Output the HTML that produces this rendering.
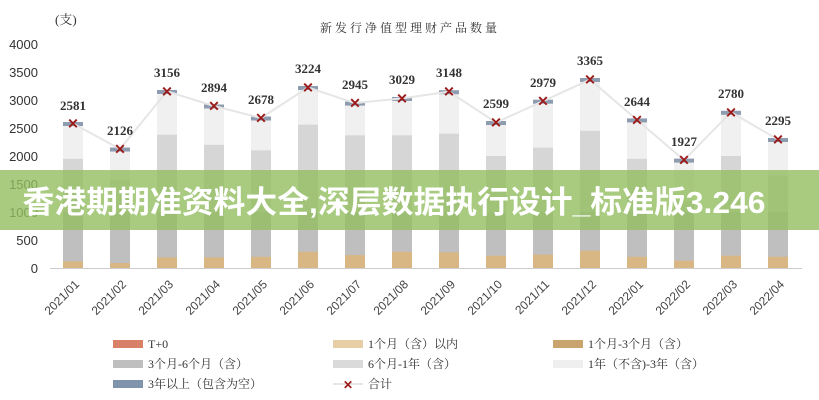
<!DOCTYPE html>
<html><head><meta charset="utf-8"><style>
body{margin:0;background:#fff;width:819px;height:400px;overflow:hidden}
svg{display:block}
.y{font:13px "Liberation Sans",sans-serif;fill:#333;text-anchor:end}
.v{font:bold 13px "Liberation Serif",serif;fill:#333;text-anchor:middle}
.x{font:12px "Liberation Sans",sans-serif;fill:#444;text-anchor:end}
.l{font:12px "Liberation Serif","Noto Serif CJK SC",serif;fill:#333}
</style></head><body>
<svg width="819" height="400" viewBox="0 0 819 400">
<text x="55" y="24" class="l" style="font-size:13px">(支)</text>
<text x="410" y="32" class="l" text-anchor="middle" style="font-size:12px;letter-spacing:3px">新发行净值型理财产品数量</text>
<g class="y">
<text x="38" y="273">0</text><text x="38" y="245">500</text><text x="38" y="217">1000</text><text x="38" y="189">1500</text>
<text x="38" y="161">2000</text><text x="38" y="133">2500</text><text x="38" y="105">3000</text><text x="38" y="77">3500</text><text x="38" y="49">4000</text>
</g>
<line x1="50" y1="268.5" x2="802" y2="268.5" stroke="#ccc"/>
<g id="bars">
<g transform="translate(63,0)"><rect y="123.5" width="20" height="144.5" fill="#f0f0f0"/><rect y="158.8" width="20" height="109.2" fill="#d6d6d6"/><rect y="212" width="20" height="56" fill="#bfbfbf"/><rect y="261.3" width="20" height="6.7" fill="#d9b784"/><rect y="122" width="20" height="4" fill="#8e9cb0"/></g>
<g transform="translate(110,0)"><rect y="149" width="20" height="119" fill="#f0f0f0"/><rect y="179.5" width="20" height="88.5" fill="#d6d6d6"/><rect y="212" width="20" height="56" fill="#bfbfbf"/><rect y="263" width="20" height="5" fill="#d9b784"/><rect y="147.5" width="20" height="4" fill="#8e9cb0"/></g>
<g transform="translate(157,0)"><rect y="91.3" width="20" height="176.7" fill="#f0f0f0"/><rect y="134.7" width="20" height="133.3" fill="#d6d6d6"/><rect y="212" width="20" height="56" fill="#bfbfbf"/><rect y="257.4" width="20" height="10.6" fill="#d9b784"/><rect y="90" width="20" height="4" fill="#8e9cb0"/></g>
<g transform="translate(204,0)"><rect y="106" width="20" height="162" fill="#f0f0f0"/><rect y="144.8" width="20" height="123.2" fill="#d6d6d6"/><rect y="212" width="20" height="56" fill="#bfbfbf"/><rect y="257.4" width="20" height="10.6" fill="#d9b784"/><rect y="104.5" width="20" height="4" fill="#8e9cb0"/></g>
<g transform="translate(251,0)"><rect y="118" width="20" height="150" fill="#f0f0f0"/><rect y="150.4" width="20" height="117.6" fill="#d6d6d6"/><rect y="212" width="20" height="56" fill="#bfbfbf"/><rect y="256.8" width="20" height="11.2" fill="#d9b784"/><rect y="116.5" width="20" height="4" fill="#8e9cb0"/></g>
<g transform="translate(298,0)"><rect y="87.5" width="20" height="180.5" fill="#f0f0f0"/><rect y="124.6" width="20" height="143.4" fill="#d6d6d6"/><rect y="212" width="20" height="56" fill="#bfbfbf"/><rect y="251.8" width="20" height="16.2" fill="#d9b784"/><rect y="86" width="20" height="4" fill="#8e9cb0"/></g>
<g transform="translate(345,0)"><rect y="103.1" width="20" height="164.9" fill="#f0f0f0"/><rect y="135.3" width="20" height="132.7" fill="#d6d6d6"/><rect y="212" width="20" height="56" fill="#bfbfbf"/><rect y="255.1" width="20" height="12.9" fill="#d9b784"/><rect y="101.6" width="20" height="4" fill="#8e9cb0"/></g>
<g transform="translate(392,0)"><rect y="98.4" width="20" height="169.6" fill="#f0f0f0"/><rect y="135.3" width="20" height="132.7" fill="#d6d6d6"/><rect y="212" width="20" height="56" fill="#bfbfbf"/><rect y="251.8" width="20" height="16.2" fill="#d9b784"/><rect y="97" width="20" height="4" fill="#8e9cb0"/></g>
<g transform="translate(439,0)"><rect y="91.7" width="20" height="176.3" fill="#f0f0f0"/><rect y="133.6" width="20" height="134.4" fill="#d6d6d6"/><rect y="212" width="20" height="56" fill="#bfbfbf"/><rect y="252.3" width="20" height="15.7" fill="#d9b784"/><rect y="90.2" width="20" height="4" fill="#8e9cb0"/></g>
<g transform="translate(486,0)"><rect y="122.5" width="20" height="145.5" fill="#f0f0f0"/><rect y="156" width="20" height="112" fill="#d6d6d6"/><rect y="212" width="20" height="56" fill="#bfbfbf"/><rect y="255.7" width="20" height="12.3" fill="#d9b784"/><rect y="121" width="20" height="4" fill="#8e9cb0"/></g>
<g transform="translate(533,0)"><rect y="101.2" width="20" height="166.8" fill="#f0f0f0"/><rect y="147.6" width="20" height="120.4" fill="#d6d6d6"/><rect y="212" width="20" height="56" fill="#bfbfbf"/><rect y="254.6" width="20" height="13.4" fill="#d9b784"/><rect y="99.7" width="20" height="4" fill="#8e9cb0"/></g>
<g transform="translate(580,0)"><rect y="79.6" width="20" height="188.4" fill="#f0f0f0"/><rect y="130.8" width="20" height="137.2" fill="#d6d6d6"/><rect y="212" width="20" height="56" fill="#bfbfbf"/><rect y="250.6" width="20" height="17.4" fill="#d9b784"/><rect y="78" width="20" height="4" fill="#8e9cb0"/></g>
<g transform="translate(627,0)"><rect y="119.9" width="20" height="148.1" fill="#f0f0f0"/><rect y="158.8" width="20" height="109.2" fill="#d6d6d6"/><rect y="212" width="20" height="56" fill="#bfbfbf"/><rect y="256.8" width="20" height="11.2" fill="#d9b784"/><rect y="118.4" width="20" height="4" fill="#8e9cb0"/></g>
<g transform="translate(674,0)"><rect y="160.1" width="20" height="107.9" fill="#f0f0f0"/><rect y="200.8" width="20" height="67.2" fill="#d6d6d6"/><rect y="212" width="20" height="56" fill="#bfbfbf"/><rect y="260.7" width="20" height="7.3" fill="#d9b784"/><rect y="158.6" width="20" height="4" fill="#8e9cb0"/></g>
<g transform="translate(721,0)"><rect y="112.3" width="20" height="155.7" fill="#f0f0f0"/><rect y="156" width="20" height="112" fill="#d6d6d6"/><rect y="212" width="20" height="56" fill="#bfbfbf"/><rect y="255.7" width="20" height="12.3" fill="#d9b784"/><rect y="110.8" width="20" height="4" fill="#8e9cb0"/></g>
<g transform="translate(768,0)"><rect y="139.5" width="20" height="128.5" fill="#f0f0f0"/><rect y="175.6" width="20" height="92.4" fill="#d6d6d6"/><rect y="212" width="20" height="56" fill="#bfbfbf"/><rect y="256.8" width="20" height="11.2" fill="#d9b784"/><rect y="138" width="20" height="4" fill="#8e9cb0"/></g>
</g>
<polyline fill="none" stroke="#e6e6e6" stroke-width="2" points="73,123.5 120,149 167,91.3 214,106 261,118 308,87.5 355,103.1 402,98.4 449,91.7 496,122.5 543,101.2 590,79.6 637,119.9 684,160.1 731,112.3 778,139.5"/>
<g font-family="Liberation Sans,sans-serif" font-weight="bold" font-size="14" fill="#9b1b1b" text-anchor="middle">
<text x="73" y="128.5">✕</text><text x="120" y="154">✕</text><text x="167" y="96.3">✕</text><text x="214" y="111">✕</text><text x="261" y="123">✕</text><text x="308" y="92.5">✕</text><text x="355" y="108.1">✕</text><text x="402" y="103.4">✕</text><text x="449" y="96.7">✕</text><text x="496" y="127.5">✕</text><text x="543" y="106.2">✕</text><text x="590" y="84.6">✕</text><text x="637" y="124.9">✕</text><text x="684" y="165.1">✕</text><text x="731" y="117.3">✕</text><text x="778" y="144.5">✕</text>
</g>
<g class="v">
<text x="73" y="110">2581</text><text x="120" y="135">2126</text><text x="167" y="77">3156</text><text x="214" y="92">2894</text><text x="261" y="104">2678</text><text x="308" y="73">3224</text><text x="355" y="89">2945</text><text x="402" y="84">3029</text><text x="449" y="77">3148</text><text x="496" y="108">2599</text><text x="543" y="87">2979</text><text x="590" y="65">3365</text><text x="637" y="106">2644</text><text x="684" y="146">1927</text><text x="731" y="98">2780</text><text x="778" y="125">2295</text>
</g>
<g class="x">
<text transform="translate(80,285) rotate(-45)">2021/01</text><text transform="translate(127,285) rotate(-45)">2021/02</text><text transform="translate(174,285) rotate(-45)">2021/03</text><text transform="translate(221,285) rotate(-45)">2021/04</text><text transform="translate(268,285) rotate(-45)">2021/05</text><text transform="translate(315,285) rotate(-45)">2021/06</text><text transform="translate(362,285) rotate(-45)">2021/07</text><text transform="translate(409,285) rotate(-45)">2021/08</text><text transform="translate(456,285) rotate(-45)">2021/09</text><text transform="translate(503,285) rotate(-45)">2021/10</text><text transform="translate(550,285) rotate(-45)">2021/11</text><text transform="translate(597,285) rotate(-45)">2021/12</text><text transform="translate(644,285) rotate(-45)">2022/01</text><text transform="translate(691,285) rotate(-45)">2022/02</text><text transform="translate(738,285) rotate(-45)">2022/03</text><text transform="translate(785,285) rotate(-45)">2022/04</text>
</g>
<rect x="113" y="340" width="30" height="8" fill="#d98068"/><text x="148" y="348" class="l">T+0</text>
<rect x="333" y="340" width="30" height="8" fill="#e6cfa6"/><text x="368" y="348" class="l">1个月（含）以内</text>
<rect x="553" y="340" width="30" height="8" fill="#c9a46c"/><text x="588" y="348" class="l">1个月-3个月（含）</text>
<rect x="113" y="360" width="30" height="8" fill="#bfbfbf"/><text x="148" y="368" class="l">3个月-6个月（含）</text>
<rect x="333" y="360" width="30" height="8" fill="#dadada"/><text x="368" y="368" class="l">6个月-1年（含）</text>
<rect x="553" y="360" width="30" height="8" fill="#efefef"/><text x="588" y="368" class="l">1年（不含)-3年（含）</text>
<rect x="113" y="380" width="30" height="8" fill="#7f93ac"/><text x="148" y="388" class="l">3年以上（包含为空）</text>
<line x1="333" y1="384" x2="363" y2="384" stroke="#e6e6e6" stroke-width="2"/><text x="348" y="389" font-family="Liberation Sans,sans-serif" font-weight="bold" font-size="12" fill="#9b1b1b" text-anchor="middle">✕</text><text x="368" y="388" class="l">合计</text>
<rect x="0" y="170" width="819" height="60" fill="rgb(146,190,96)" fill-opacity="0.8"/>
<text x="394" y="213" text-anchor="middle" textLength="743" lengthAdjust="spacingAndGlyphs" font-family="Liberation Sans,'Noto Sans CJK SC',sans-serif" font-weight="bold" font-size="31" fill="#fff">香港期期准资料大全,深层数据执行设计_标准版3.246</text>
</svg>
</body></html>
